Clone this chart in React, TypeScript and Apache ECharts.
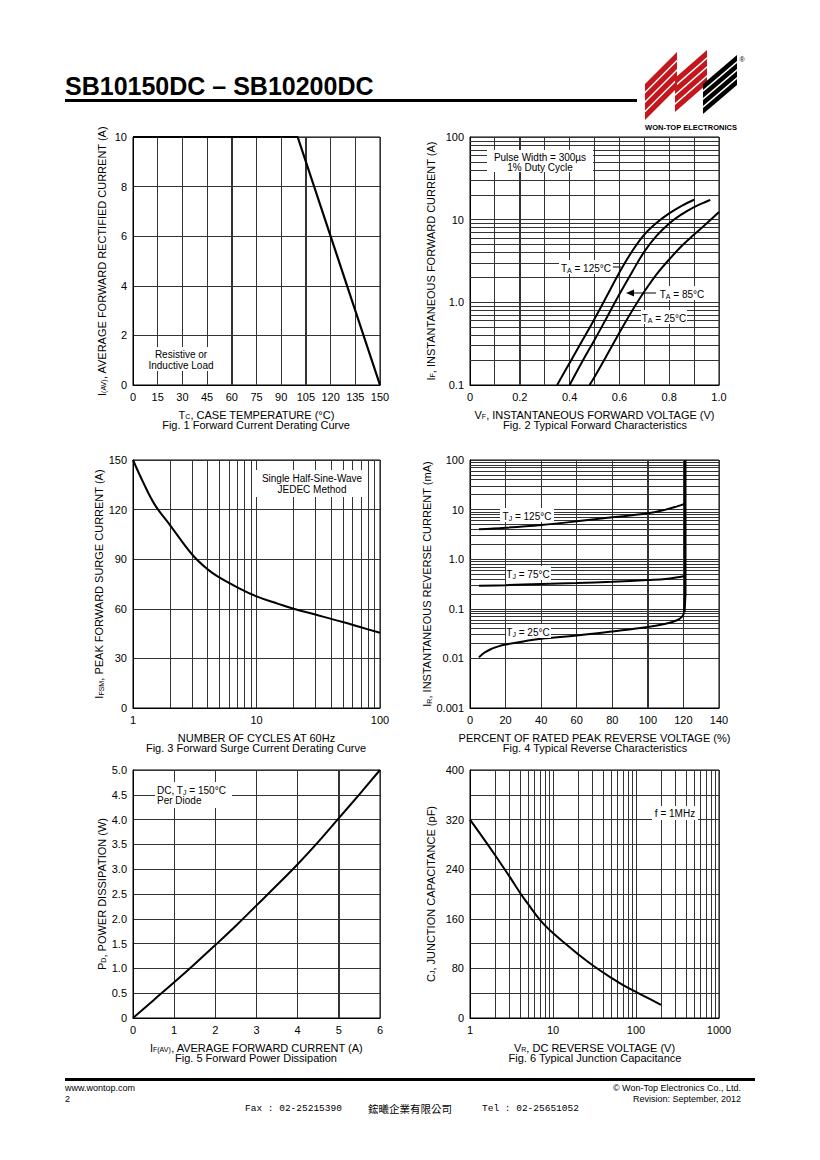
import React, { useEffect, useRef } from "react";
import * as echarts from "echarts";

const FONT = '"Liberation Sans", Arial, Helvetica, sans-serif';

// ---------- Fig 1: Forward current derating ----------
const fig1Temp = [0, 100, 150];
const fig1Current = [10, 10, 0];

// ---------- Fig 2: Typical forward characteristics ----------
const fig2V125 = [0.35, 0.4, 0.45, 0.5, 0.55, 0.6, 0.65, 0.7, 0.75, 0.8, 0.85, 0.9];
const fig2I125 = [0.1, 0.185, 0.34, 0.63, 1.2, 2.3, 4.1, 6.6, 9.2, 11.9, 14.7, 17.4];
const fig2V85 = [0.4, 0.45, 0.5, 0.55, 0.6, 0.65, 0.7, 0.75, 0.8, 0.85, 0.9, 0.95, 0.965];
const fig2I85 = [0.1, 0.19, 0.35, 0.66, 1.25, 2.3, 4.1, 6.4, 9.0, 11.6, 14.2, 16.6, 17.3];
const fig2V25 = [0.48, 0.5, 0.55, 0.6, 0.65, 0.7, 0.75, 0.8, 0.85, 0.9, 0.95, 1.0];
const fig2I25 = [0.1, 0.125, 0.23, 0.43, 0.78, 1.35, 2.2, 3.3, 4.8, 6.6, 9.0, 12.4];

// ---------- Fig 3: Forward surge current derating ----------
const fig3Cycles = [1, 1.2, 1.5, 2, 3, 4, 5, 7, 10, 15, 20, 30, 50, 70, 100];
const fig3Amps = [150, 137, 123, 110.5, 93, 84, 79, 73, 67.5, 63, 60, 56.5, 52, 48.8, 45.5];

// ---------- Fig 4: Typical reverse characteristics ----------
const fig4Pct125 = [5, 20, 40, 60, 80, 100, 110, 116, 121];
const fig4mA125 = [4.0, 4.3, 4.9, 5.8, 7.0, 8.4, 10.0, 11.5, 13.2];
const fig4Pct75 = [5, 20, 40, 60, 80, 100, 110, 121];
const fig4mA75 = [0.29, 0.3, 0.315, 0.33, 0.35, 0.38, 0.4, 0.46];
const fig4Pct25 = [5, 8, 12, 16, 20, 30, 40, 60, 80, 100, 110, 116, 119, 120.5];
const fig4mA25 = [0.0105, 0.013, 0.0155, 0.0175, 0.019, 0.022, 0.025, 0.029, 0.035, 0.043, 0.05, 0.058, 0.068, 0.085];
const fig4PctBreak = [120.5, 121, 121];
const fig4mABreak = [0.085, 0.2, 100];

// ---------- Fig 5: Forward power dissipation ----------
const fig5Current = [0, 0.5, 1, 1.5, 2, 2.5, 3, 3.5, 4, 4.5, 5, 5.5, 6];
const fig5Power = [0, 0.36, 0.72, 1.09, 1.47, 1.86, 2.27, 2.68, 3.1, 3.55, 4.03, 4.51, 5.0];

// ---------- Fig 6: Typical junction capacitance ----------
const fig6Volts = [1, 1.5, 2, 3, 4, 5, 7, 10, 15, 20, 30, 50, 70, 100, 150, 200];
const fig6pF = [320, 287, 263, 228, 202, 184, 158, 137, 117, 103, 85, 65, 53, 42, 30, 21];

// vertical grid positions on the linear x axes
const fig1XGrid = [15, 30, 45, 60, 75, 90, 105, 120, 135];
const fig2XGrid = [0.1, 0.2, 0.3, 0.4, 0.5, 0.6, 0.7, 0.8, 0.9];
const fig4XGrid = [20, 40, 60, 80, 100, 120];
const fig5XGrid = [1, 2, 3, 4, 5];

const zip = (a: number[], b: number[]) => a.map((v, i) => [v, b[i]]);

// grid positions for log axes (1..9 per decade)
const logGrid = (e0: number, e1: number) => {
  const out: number[] = [];
  for (let e = e0; e < e1; e++)
    for (let k = 1; k <= 9; k++) {
      if (e === e0 && k === 1) continue;
      out.push(Number((k * Math.pow(10, e)).toPrecision(3)));
    }
  return out;
};

const GRID_COLOR = "#333";

const rich = {
  n: { fontSize: 11, fontFamily: FONT, color: "#000", lineHeight: 14, verticalAlign: "bottom" },
  s: { fontSize: 7, fontFamily: FONT, color: "#000", lineHeight: 9, verticalAlign: "bottom" },
};

const grids = [
  { left: 133, top: 137, width: 247, height: 248 },
  { left: 470, top: 137, width: 249, height: 248 },
  { left: 133, top: 460, width: 247, height: 248 },
  { left: 470, top: 460, width: 249, height: 248 },
  { left: 133, top: 770, width: 247, height: 248 },
  { left: 470, top: 770, width: 249, height: 248 },
].map((g) => ({
  ...g,
  show: true,
  borderColor: "#000",
  borderWidth: 1,
}));

const fmtNum = (v: number) => {
  const s = Number(Number(v).toPrecision(3));
  if (s === 1) return "1.0";
  return String(s);
};
const fmtFixed1 = (v: number) => (v === 0 ? "0" : Number(v).toFixed(1));

function baseAxis(gridIndex: number, extra: any) {
  return {
    gridIndex,
    axisLine: { show: true, onZero: false, lineStyle: { color: "#000", width: 1 } },
    axisTick: { show: false },
    splitLine: { show: true, lineStyle: { color: GRID_COLOR, width: 1 } },
    nameLocation: "middle",
    nameTextStyle: { color: "#000", fontFamily: FONT, fontSize: 11, rich },
    ...extra,
    axisLabel: {
      color: "#000",
      fontFamily: FONT,
      fontSize: 11,
      margin: 6,
      ...(extra.axisLabel || {}),
    },
  };
}

const gridMark = (axis: "xAxis" | "yAxis", values: number[]) => ({
  silent: true,
  symbol: ["none", "none"],
  label: { show: false },
  emphasis: { disabled: true },
  lineStyle: { color: GRID_COLOR, width: 1, type: "solid" },
  data: values.map((v) => ({ [axis]: v })),
});

function curve(i: number, data: any[], extra: any = {}) {
  return {
    type: "line",
    xAxisIndex: i,
    yAxisIndex: i,
    data,
    symbol: "none",
    showSymbol: false,
    silent: true,
    lineStyle: { color: "#000", width: 2 },
    z: 5,
    ...extra,
  };
}

function txt(text: string, x: number, y: number, opts: any = {}) {
  return {
    type: "text",
    z: 100,
    silent: true,
    style: {
      text,
      x,
      y,
      fill: "#000",
      fontFamily: FONT,
      fontSize: 11,
      align: opts.align || "center",
      textAlign: opts.align || "center",
      verticalAlign: "middle",
      textVerticalAlign: "middle",
      ...opts,
      rich: opts.rich,
    },
  };
}

function stripes(L: number, R: number, bottom: number, H: number, S: number, n: number, gap: number, color: string) {
  const h = (H - gap * (n - 1)) / n;
  const out: any[] = [];
  for (let k = 0; k < n; k++) {
    const b = bottom - k * (h + gap);
    const t = b - h;
    out.push({
      type: "polygon",
      z: 100,
      silent: true,
      shape: { points: [[L, b], [L, t], [R, t - S], [R, b - S]] },
      style: { fill: color },
    });
  }
  return out;
}

const boxRich = {
  n: { fontSize: 10, fontFamily: FONT, fill: "#000", color: "#000", lineHeight: 13, verticalAlign: "bottom" },
  s: { fontSize: 7, fontFamily: FONT, fill: "#000", color: "#000", lineHeight: 8, verticalAlign: "bottom" },
};

const SMOOTH = 0.4;

export default function App() {
  const ref = useRef<HTMLDivElement>(null);
  useEffect(() => {
    document.body.style.margin = "0";
    if (!ref.current) return;
    const chart = echarts.init(ref.current, undefined, { renderer: "svg" });

    const xAxis = [
      baseAxis(0, {
        type: "value", min: 0, max: 150, interval: 15,
        name: "{n|T}{s|C}{n|, CASE TEMPERATURE (°C)}", nameGap: 21,
      }),
      baseAxis(1, {
        type: "value", min: 0, max: 1, interval: 0.2,
        axisLabel: { formatter: fmtFixed1 },
        name: "{n|V}{s|F}{n|, INSTANTANEOUS FORWARD VOLTAGE (V)}", nameGap: 21,
      }),
      baseAxis(2, {
        type: "log", logBase: 10, min: 1, max: 100,
        axisLabel: { formatter: (v: number) => String(Number(Number(v).toPrecision(3))) },
        name: "{n|NUMBER OF CYCLES AT 60Hz}", nameGap: 21,
      }),
      baseAxis(3, {
        type: "value", min: 0, max: 140, interval: 20,
        name: "{n|PERCENT OF RATED PEAK REVERSE VOLTAGE (%)}", nameGap: 21,
      }),
      baseAxis(4, {
        type: "value", min: 0, max: 6, interval: 1,
        name: "{n|I}{s|F(AV)}{n|, AVERAGE FORWARD CURRENT (A)}", nameGap: 21,
      }),
      baseAxis(5, {
        type: "log", logBase: 10, min: 1, max: 1000,
        axisLabel: { formatter: (v: number) => String(Number(Number(v).toPrecision(3))) },
        name: "{n|V}{s|R}{n|, DC REVERSE VOLTAGE (V)}", nameGap: 21,
      }),
    ];

    const yAxis = [
      baseAxis(0, {
        type: "value", min: 0, max: 10, interval: 2,
        name: "{n|I}{s|(AV)}{n|, AVERAGE FORWARD RECTIFIED CURRENT (A)}", nameGap: 26,
      }),
      baseAxis(1, {
        type: "log", logBase: 10, min: 0.1, max: 100,
        axisLabel: { formatter: fmtNum },
        name: "{n|I}{s|F}{n|, INSTANTANEOUS FORWARD CURRENT (A)}", nameGap: 34,
      }),
      baseAxis(2, {
        type: "value", min: 0, max: 150, interval: 30,
        name: "{n|I}{s|FSM}{n|, PEAK FORWARD SURGE CURRENT (A)}", nameGap: 26,
      }),
      baseAxis(3, {
        type: "log", logBase: 10, min: 0.001, max: 100,
        axisLabel: { formatter: fmtNum },
        name: "{n|I}{s|R}{n|, INSTANTANEOUS REVERSE CURRENT (mA)}", nameGap: 34,
      }),
      baseAxis(4, {
        type: "value", min: 0, max: 5, interval: 0.5,
        axisLabel: { formatter: fmtFixed1 },
        name: "{n|P}{s|D}{n|, POWER DISSIPATION (W)}", nameGap: 26,
      }),
      baseAxis(5, {
        type: "value", min: 0, max: 400, interval: 80,
        minorTick: { show: false, splitNumber: 2 },
        minorSplitLine: { show: true, lineStyle: { color: GRID_COLOR, width: 1 } },
        name: "{n|C}{s|J}{n|, JUNCTION CAPACITANCE (pF)}", nameGap: 34,
      }),
    ];

    const series = [
      curve(0, zip(fig1Temp, fig1Current), { lineStyle: { color: "#000", width: 2.2 } }),
      curve(1, zip(fig2V125, fig2I125), { smooth: SMOOTH, markLine: gridMark("yAxis", logGrid(-1, 2)) }),
      curve(1, zip(fig2V85, fig2I85), { smooth: SMOOTH }),
      curve(1, zip(fig2V25, fig2I25), { smooth: SMOOTH }),
      curve(2, zip(fig3Cycles, fig3Amps), { smooth: SMOOTH, markLine: gridMark("xAxis", logGrid(0, 2)) }),
      curve(3, zip(fig4Pct125, fig4mA125), { smooth: SMOOTH, markLine: gridMark("yAxis", logGrid(-3, 2)) }),
      curve(3, zip(fig4Pct75, fig4mA75), { smooth: SMOOTH }),
      curve(3, zip(fig4Pct25, fig4mA25), { smooth: SMOOTH }),
      curve(3, zip(fig4PctBreak, fig4mABreak), { lineStyle: { color: "#000", width: 2.6 } }),
      curve(4, zip(fig5Current, fig5Power), { smooth: SMOOTH }),
      curve(5, zip(fig6Volts, fig6pF), { smooth: SMOOTH, markLine: gridMark("xAxis", logGrid(0, 3)) }),
    ];

    chart.setOption({
      animation: false,
      backgroundColor: "#fff",
      textStyle: { fontFamily: FONT },
      grid: grids,
      xAxis,
      yAxis,
      series,
    });

    // vertical grid lines on the linear x axes, placed through the axes' own scales
    const vLines = (i: number, xs: number[], y0: number, y1: number) =>
      xs.map((x) => {
        const a = chart.convertToPixel({ gridIndex: i }, [x, y0]) as number[];
        const b = chart.convertToPixel({ gridIndex: i }, [x, y1]) as number[];
        return {
          type: "rect", z: 1, silent: true,
          shape: { x: Math.floor(a[0]), y: b[1], width: 1, height: a[1] - b[1] },
          style: { fill: GRID_COLOR },
        };
      });

    const captions = [
      ["Fig. 1 Forward Current Derating Curve", 256, 425],
      ["Fig. 2 Typical Forward Characteristics", 595, 425],
      ["Fig. 3 Forward Surge Current Derating Curve", 256, 748],
      ["Fig. 4 Typical Reverse Characteristics", 595, 748],
      ["Fig. 5 Forward Power Dissipation", 256, 1058],
      ["Fig. 6 Typical Junction Capacitance", 595, 1058],
    ].map(([t, x, y]) => txt(t as string, x as number, y as number));

    const white = (x: number, y: number, w: number, h: number) => ({
      type: "rect", z: 99, silent: true,
      shape: { x, y, width: w, height: h },
      style: { fill: "#fff" },
    });
    const line = (x1: number, y1: number, x2: number, y2: number, w = 1) => ({
      type: "line", z: 100, silent: true,
      shape: { x1, y1, x2, y2 },
      style: { stroke: "#000", lineWidth: w },
    });

    const graphic = [
      ...vLines(0, fig1XGrid, 0, 10),
      ...vLines(1, fig2XGrid, 0.1, 100),
      ...vLines(3, fig4XGrid, 0.001, 100),
      ...vLines(4, fig5XGrid, 0, 5),

      // Header
      txt("SB10150DC – SB10200DC", 65, 86, { align: "left", fontSize: 25, fontWeight: "bold" }),
      { type: "rect", z: 100, silent: true, shape: { x: 65, y: 99, width: 572, height: 3 }, style: { fill: "#000" } },
      ...stripes(645, 677, 120, 36, 32, 4, 2, "#c4161c"),
      ...stripes(675, 707, 112, 34, 28, 4, 2, "#c4161c"),
      ...stripes(703, 737, 114, 30, 29, 4, 2, "#000"),
      txt("®", 742, 59, { fontSize: 7 }),
      txt("WON-TOP ELECTRONICS", 691, 127, { fontSize: 7.5, fontWeight: "bold" }),

      // Fig 1 annotation
      white(150, 347, 62, 24),
      txt("Resistive or", 181, 354, { fontSize: 10 }),
      txt("Inductive Load", 181, 365, { fontSize: 10 }),

      // Fig 2 annotations
      white(487, 150, 106, 22),
      txt("Pulse Width = 300µs", 540, 157, { fontSize: 10 }),
      txt("1% Duty Cycle", 540, 167, { fontSize: 10 }),
      white(559, 260, 54, 14),
      txt("{n|T}{s|A}{n| = 125°C}", 586, 267, { fontSize: 10, rich: boxRich }),
      line(613, 267, 621, 267),
      white(656, 286, 52, 14),
      txt("{n|T}{s|A}{n| = 85°C}", 682, 293, { fontSize: 10, rich: boxRich }),
      line(632, 293, 656, 293),
      { type: "polygon", z: 100, silent: true, shape: { points: [[626, 293], [634, 289.5], [634, 296.5]] }, style: { fill: "#000" } },
      white(641, 310, 46, 14),
      txt("{n|T}{s|A}{n| = 25°C}", 664, 317, { fontSize: 10, rich: boxRich }),

      // Fig 3 annotation
      white(256, 470, 107, 27),
      txt("Single Half-Sine-Wave", 312, 478, { fontSize: 10 }),
      txt("JEDEC Method", 312, 489, { fontSize: 10 }),

      // Fig 4 annotations
      white(500, 508, 54, 14),
      txt("{n|T}{s|J}{n| = 125°C}", 527, 515, { fontSize: 10, rich: boxRich }),
      white(506, 566, 45, 14),
      txt("{n|T}{s|J}{n| = 75°C}", 528, 573, { fontSize: 10, rich: boxRich }),
      white(506, 624, 45, 14),
      txt("{n|T}{s|J}{n| = 25°C}", 528, 631, { fontSize: 10, rich: boxRich }),

      // Fig 5 annotation
      white(155, 782, 77, 26),
      txt("{n|DC, T}{s|J}{n| = 150°C}", 157, 789, { align: "left", fontSize: 10, rich: boxRich }),
      txt("Per Diode", 157, 800, { align: "left", fontSize: 10 }),

      // Fig 6 annotation
      white(652, 806, 46, 14),
      txt("f = 1MHz", 675, 813, { fontSize: 10 }),

      ...captions,

      // Footer
      { type: "rect", z: 100, silent: true, shape: { x: 65, y: 1078, width: 690, height: 3 }, style: { fill: "#000" } },
      txt("www.wontop.com", 65, 1088, { align: "left", fontSize: 9 }),
      txt("2", 65, 1099, { align: "left", fontSize: 9 }),
      txt("© Won-Top Electronics Co., Ltd.", 741, 1088, { align: "right", fontSize: 9 }),
      txt("Revision: September, 2012", 741, 1099, { align: "right", fontSize: 9 }),
      txt("Fax : 02-25215390", 245, 1108, { align: "left", fontSize: 9.5, fontFamily: '"Liberation Mono", "DejaVu Sans Mono", monospace' }),
      txt("鋐曦企業有限公司", 368, 1108, { align: "left", fontSize: 10.5, fontFamily: '"Noto Sans CJK TC", sans-serif' }),
      txt("Tel : 02-25651052", 482, 1108, { align: "left", fontSize: 9.5, fontFamily: '"Liberation Mono", "DejaVu Sans Mono", monospace' }),
    ];

    chart.setOption({ graphic });
    return () => chart.dispose();
  }, []);

  return <div ref={ref} style={{ width: 820, height: 1160 }} />;
}
